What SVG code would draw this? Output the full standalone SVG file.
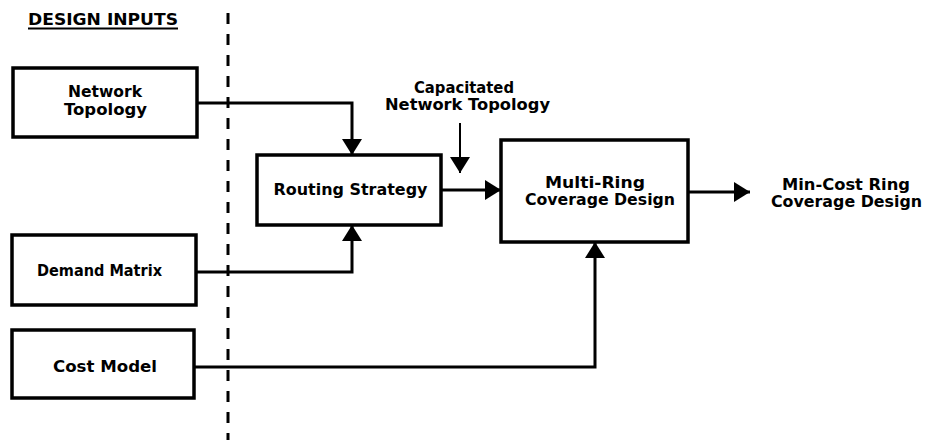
<svg xmlns="http://www.w3.org/2000/svg" width="929" height="440" viewBox="0 0 929 440">
  <style>
    .box { fill: #ffffff; stroke: #000000; stroke-width: 3.5; }
    .t { font-family: "DejaVu Sans", "Liberation Sans", sans-serif; font-weight: bold; font-size: 15.5px; fill: #000000; text-anchor: middle; }
    .con { fill: none; stroke: #000000; stroke-width: 3; }
    .thin { fill: none; stroke: #000000; stroke-width: 2; }
    .dash { fill: none; stroke: #000000; stroke-width: 3; stroke-dasharray: 11 10; }
  </style>
  <defs>
    <marker id="ah" viewBox="0 0 16 20" refX="16" refY="10" markerWidth="16" markerHeight="20" markerUnits="userSpaceOnUse" orient="auto">
      <path d="M0,0 L16,10 L0,20 Z" fill="#000000"/>
    </marker>
  </defs>

  <rect width="929" height="440" fill="#ffffff"/>

  <g id="design-inputs-label">
    <text class="t" x="103" y="25" font-size="13.5" textLength="150" lengthAdjust="spacingAndGlyphs">DESIGN INPUTS</text>
    <line x1="28" y1="28.5" x2="178" y2="28.5" stroke="#000000" stroke-width="2"/>
  </g>

  <g id="divider">
    <line class="dash" x1="228" y1="13" x2="228" y2="440"/>
  </g>

  <g id="network-topology">
    <rect class="box" x="13" y="68" width="184" height="69"/>
    <text class="t" x="105" y="97" textLength="74" lengthAdjust="spacingAndGlyphs">Network</text>
    <text class="t" x="105.5" y="115" textLength="83" lengthAdjust="spacingAndGlyphs">Topology</text>
  </g>

  <g id="demand-matrix">
    <rect class="box" x="12" y="235" width="184" height="70"/>
    <text class="t" x="99.5" y="276" textLength="125" lengthAdjust="spacingAndGlyphs">Demand Matrix</text>
  </g>

  <g id="cost-model">
    <rect class="box" x="12" y="330" width="182" height="68"/>
    <text class="t" x="105" y="372" textLength="104" lengthAdjust="spacingAndGlyphs">Cost Model</text>
  </g>

  <g id="routing-strategy">
    <rect class="box" x="257" y="155" width="184" height="70"/>
    <text class="t" x="350.5" y="195" textLength="154" lengthAdjust="spacingAndGlyphs">Routing Strategy</text>
  </g>

  <g id="multi-ring">
    <rect class="box" x="501" y="140" width="187" height="102"/>
    <text class="t" x="595" y="188" textLength="100" lengthAdjust="spacingAndGlyphs">Multi-Ring</text>
    <text class="t" x="600" y="205" textLength="150" lengthAdjust="spacingAndGlyphs">Coverage Design</text>
  </g>

  <g id="capacitated-label">
    <text class="t" x="464" y="93" textLength="100" lengthAdjust="spacingAndGlyphs">Capacitated</text>
    <text class="t" x="467.5" y="110" textLength="165" lengthAdjust="spacingAndGlyphs">Network Topology</text>
  </g>

  <g id="output-label">
    <text class="t" x="846" y="190" textLength="128" lengthAdjust="spacingAndGlyphs">Min-Cost Ring</text>
    <text class="t" x="846.5" y="207" textLength="151" lengthAdjust="spacingAndGlyphs">Coverage Design</text>
  </g>

  <g id="connectors">
    <path class="con" d="M197,103 H352 V155" marker-end="url(#ah)"/>
    <path class="con" d="M196,272 H352 V225" marker-end="url(#ah)"/>
    <path class="con" d="M194,367 H595 V242" marker-end="url(#ah)"/>
    <path class="con" d="M441,190 H501" marker-end="url(#ah)"/>
    <path class="thin" d="M460,123 V173" marker-end="url(#ah)"/>
    <path class="con" d="M688,192 H750" marker-end="url(#ah)"/>
  </g>
</svg>
